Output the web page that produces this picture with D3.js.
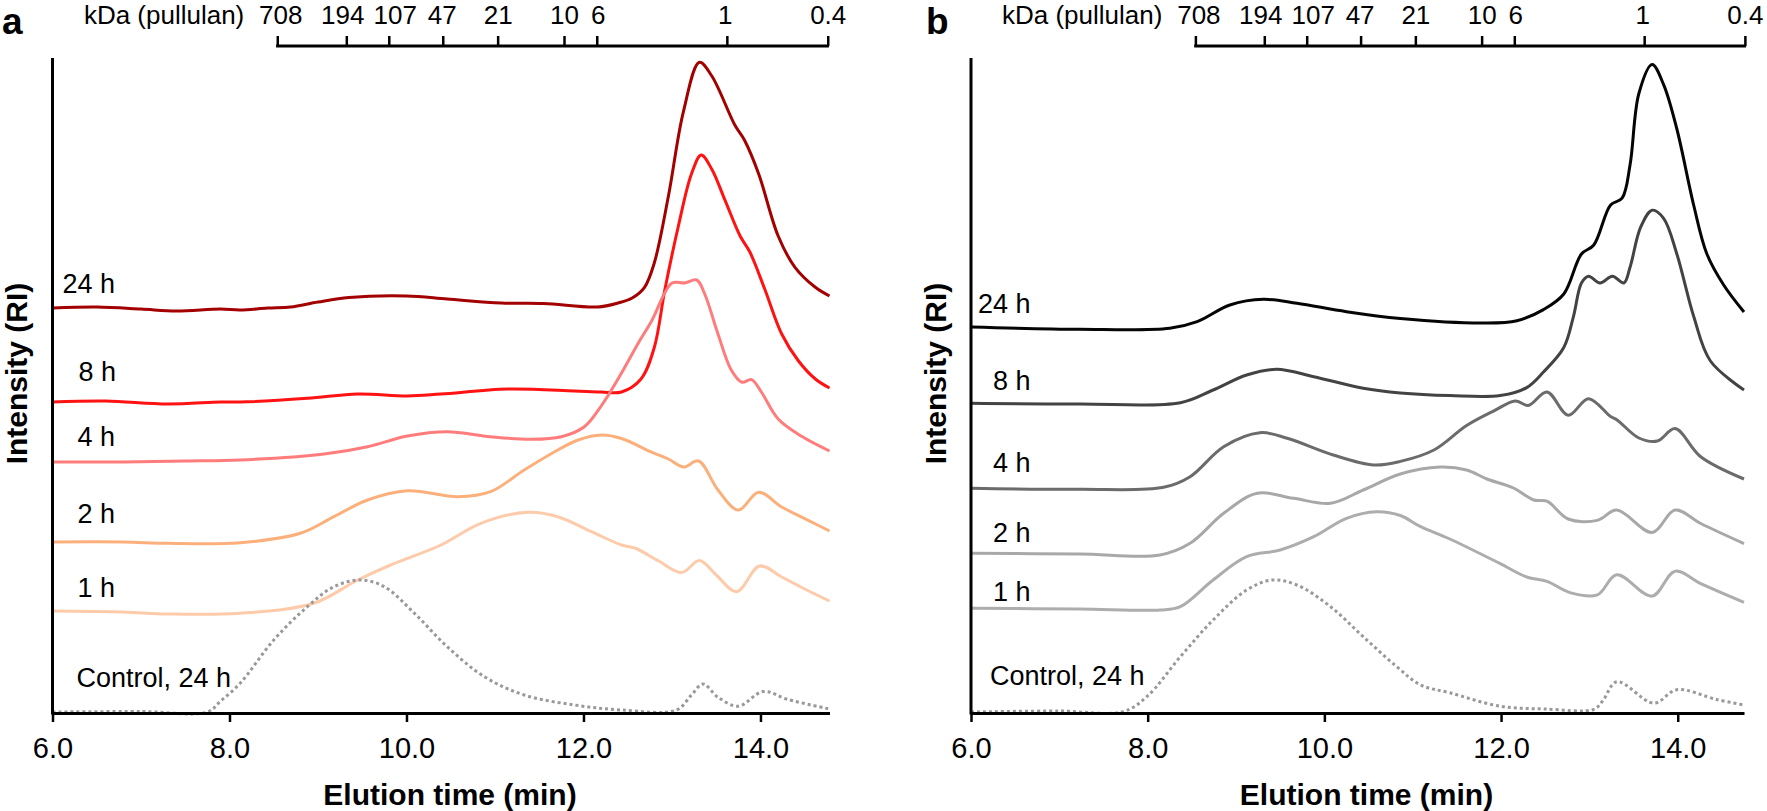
<!DOCTYPE html>
<html><head><meta charset="utf-8">
<script src="https://cdn.jsdelivr.net/npm/d3@7"></script>
<style>
body{margin:0;background:#fff;}
svg text{font-family:"Liberation Sans",Arial,Helvetica,sans-serif;fill:#000;}
</style></head><body>
<svg id="chart" width="1767" height="811"></svg>
<script>
// ---------------- data ----------------
const timeTicks = [6, 8, 10, 12, 14];
const kdaLabels = ["708", "194", "107", "47", "21", "10", "6", "1", "0.4"];
const kdaTimes  = [8.54, 9.32, 9.80, 10.41, 11.03, 11.78, 12.15, 13.62, 14.76];
const seriesNames = ["24 h", "8 h", "4 h", "2 h", "1 h", "Control, 24 h"];

// panel a : [elution time (min), RI intensity (a.u.)]
const a24 = [[6.0,405],[6.5,406],[7.0,404],[7.4,402],[7.9,404],[8.12,403],[8.43,405],[8.69,406],[9.0,411],[9.35,415.5],[10.0,417],[10.46,414],[11.07,410],[11.55,409.5],[12.16,406],[12.39,410],[12.55,415],[12.69,425.7],[12.80,450],[12.96,517],[13.13,601.7],[13.31,650.7],[13.45,637],[13.71,588],[13.82,572.7],[13.98,539],[14.20,477],[14.39,445.7],[14.62,425.7],[14.78,417]];
const a8 = [[6.0,311],[6.6,312],[7.3,309],[7.9,311],[8.12,311],[8.88,314.7],[9.45,319],[10.01,317],[10.39,319],[11.14,324],[11.9,322],[12.2,321],[12.43,321],[12.65,334],[12.80,365.5],[12.92,423.5],[13.07,486],[13.22,539],[13.33,558],[13.45,543.8],[13.60,512.6],[13.77,477],[13.88,461],[14.05,423.5],[14.24,379],[14.43,352],[14.62,334],[14.78,325]];
const a4 = [[6.0,251],[6.8,251],[7.5,252],[8.12,253],[9.07,259],[9.56,266.3],[10.01,277],[10.46,281.3],[10.95,276.3],[11.41,273.7],[11.75,276.3],[12.01,286.3],[12.20,307],[12.43,340],[12.62,370],[12.77,392],[13.0,430],[13.14,430],[13.28,433],[13.37,419],[13.52,379],[13.67,343],[13.79,330.8],[13.90,333.4],[14.01,321],[14.20,294],[14.47,276.4],[14.78,262]];
const a2 = [[6.0,171],[6.8,171],[7.3,169.7],[8.12,170.3],[8.80,179.7],[9.18,196.3],[9.56,213],[10.01,222.3],[10.58,216.3],[10.95,221.3],[11.33,243],[11.71,263],[11.94,273],[12.20,278],[12.43,274.5],[12.77,260.8],[12.96,254],[13.13,246],[13.30,252],[13.52,223],[13.75,203],[13.98,220.7],[14.24,206],[14.54,192.6],[14.78,182]];
const a1 = [[6.0,102],[6.8,101],[7.3,99],[8.12,99.7],[8.95,109.7],[9.45,133],[9.82,148],[10.39,168],[10.84,189.7],[11.37,200.7],[11.71,196.3],[12.09,181.3],[12.43,168],[12.58,165],[12.85,152],[13.11,140.5],[13.31,152.5],[13.50,138],[13.73,121.3],[13.99,147],[14.24,136],[14.50,124],[14.78,112]];
const aCtrl = [[6.0,1],[7.0,1.5],[7.75,1],[7.9,12],[8.12,29.7],[8.50,73],[8.88,106.3],[9.18,126.3],[9.48,133],[9.75,126.3],[10.09,99.7],[10.46,66.3],[10.88,36.3],[11.33,18],[11.9,8],[12.43,3],[13.05,3],[13.22,18],[13.35,29],[13.52,15.7],[13.75,6.8],[14.03,21.5],[14.31,13.5],[14.78,4]];

// panel b
const b24 = [[6.0,386],[7.23,383.7],[8.25,384.7],[8.56,391.3],[8.93,408],[9.31,413.7],[9.69,409.7],[10.25,401.3],[10.86,394.5],[11.80,390],[12.18,392.3],[12.48,403.4],[12.71,419],[12.91,459],[13.05,468],[13.24,508],[13.37,514.8],[13.46,548],[13.56,619.5],[13.71,648.5],[13.84,628.4],[13.99,584],[14.18,508],[14.33,459],[14.52,428],[14.75,401]];
const b8 = [[6.0,309.7],[7.23,309],[8.37,310.3],[8.74,323],[9.12,338],[9.46,343.7],[9.88,336.3],[10.44,324.7],[10.86,320],[11.42,317.4],[11.99,317.4],[12.29,325.4],[12.48,341],[12.71,365.5],[12.82,396.7],[12.91,430],[12.99,436.8],[13.12,430],[13.26,436.8],[13.39,430],[13.46,445.7],[13.58,485.8],[13.71,502.8],[13.84,494.7],[13.99,459],[14.18,396.7],[14.37,352],[14.75,323]];
const b4 = [[6.0,224.7],[7.23,223.7],[8.18,225.7],[8.48,236.3],[8.86,266.3],[9.27,280.3],[9.58,274.7],[10.10,258],[10.56,248],[10.86,251.6],[11.24,263],[11.61,287.5],[11.92,302.2],[12.16,312],[12.31,307.6],[12.52,321],[12.76,297.8],[12.99,314.3],[13.24,296.4],[13.31,293.3],[13.56,275],[13.77,272],[13.97,284.4],[14.26,256.3],[14.75,234]];
const b2 = [[6.0,159.7],[7.23,159],[8.14,158],[8.48,169.7],[8.86,199.7],[9.24,219.7],[9.65,214.7],[10.07,209.7],[10.44,223],[10.86,239],[11.31,246],[11.61,243],[11.84,234],[12.14,225],[12.37,213],[12.52,211.8],[12.76,194],[13.09,192.6],[13.31,202.9],[13.71,180.6],[13.97,202.9],[14.26,189.5],[14.75,169.4]];
const b1 = [[6.0,104.7],[7.23,104],[8.14,103],[8.37,106.3],[8.74,133],[9.12,156.3],[9.50,163],[9.88,176.3],[10.25,194.7],[10.59,201.3],[10.86,197.5],[11.09,186.3],[11.42,174],[11.99,149.4],[12.29,136],[12.52,131.6],[12.78,120.4],[13.09,118.2],[13.31,138.2],[13.71,116.9],[13.97,141.8],[14.26,129.3],[14.75,110.6]];
const bCtrl = [[6.0,1],[7.0,2],[7.72,1.3],[7.99,16.3],[8.37,56.3],[8.74,93],[9.12,123],[9.41,133],[9.69,128],[10.07,106.3],[10.44,76.3],[10.82,46.3],[11.09,28],[11.42,20.2],[11.99,6.8],[12.5,4],[13.05,3.7],[13.15,12],[13.31,31.3],[13.73,9.9],[13.99,23.3],[14.44,13.5],[14.75,8]];

// ---------------- layout / style ----------------
const kdaLabelDx = [3, -4, 6, -1, 0, 0, 1, -2, 0];
const panels = [
  { letter: "a", letterX: 2, x0: 52.5, x1: 829.5, tEnd: 14.78,
    series: [a24, a8, a4, a2, a1, aCtrl],
    colors: ["#a30000", "#ff1212", "#ff7c7c", "#fbb07c", "#fdcbaa", "#999999"],
    labelDx: [10, 26, 25, 25, 25, 24], labelGap: [15, 21, 16, 19, 14, 25] },
  { letter: "b", letterX: 926, x0: 971, x1: 1744, tEnd: 14.75,
    series: [b24, b8, b4, b2, b1, bCtrl],
    colors: ["#050505", "#434343", "#6b6b6b", "#a8a8a8", "#adadad", "#999999"],
    labelDx: [7, 22, 22, 22, 22, 19], labelGap: [14, 13, 16, 11, 7, 27] }
];
const yBase = 713, yTop = 58;
const FONT = '"Liberation Sans",Arial,Helvetica,sans-serif';

const svg = d3.select("#chart");

panels.forEach(p => {
  const x = d3.scaleLinear().domain([6, p.tEnd]).range([p.x0, p.x1]);
  const y = d3.scaleLinear().domain([0, 655]).range([yBase, yTop]);
  const g = svg.append("g");

  // curves
  const line = d3.line().x(d => x(d[0])).y(d => y(d[1])).curve(d3.curveCatmullRom.alpha(0.5));
  p.series.forEach((s, i) => {
    const isCtrl = i === 5;
    g.append("path").datum(s).attr("d", line)
      .attr("fill", "none").attr("stroke", p.colors[i])
      .attr("stroke-width", 3)
      .attr("stroke-dasharray", isCtrl ? "3,3" : null)
      .attr("stroke-linejoin", "round");
    g.append("text")
      .attr("x", p.x0 + p.labelDx[i])
      .attr("y", y(s[0][1]) - p.labelGap[i])
      .attr("font-size", 27)
      .text(seriesNames[i]);
  });

  // y axis line
  g.append("line").attr("x1", p.x0).attr("x2", p.x0).attr("y1", yTop).attr("y2", yBase + 1.5)
    .attr("stroke", "#000").attr("stroke-width", 3);

  // bottom axis
  const bx = g.append("g").attr("transform", `translate(0,${yBase})`)
    .call(d3.axisBottom(x).tickValues(timeTicks).tickFormat(d3.format(".1f")).tickSize(9).tickSizeOuter(0).tickPadding(15));
  bx.select(".domain").attr("stroke-width", 3);
  bx.selectAll(".tick line").attr("stroke-width", 2.5);
  bx.selectAll(".tick text").attr("font-size", 29).attr("font-family", FONT);

  // top kDa axis
  const kx = d3.scaleLinear().domain(x.domain()).range(x.range());
  const tx = g.append("g").attr("transform", "translate(0,46)")
    .call(d3.axisTop(kx).tickValues(kdaTimes).tickFormat((d, i) => kdaLabels[i]).tickSize(10).tickSizeOuter(0).tickPadding(12));
  tx.select(".domain").remove();
  tx.append("line").attr("x1", kx(kdaTimes[0]) - 1.2).attr("x2", kx(kdaTimes[kdaTimes.length - 1]) + 1.2)
    .attr("stroke", "#000").attr("stroke-width", 3);
  tx.selectAll(".tick line").attr("stroke-width", 2.5);
  tx.selectAll(".tick text").attr("font-size", 26).attr("font-family", FONT)
    .attr("dx", (d, i) => kdaLabelDx[i]);
  g.append("text").attr("x", kx(kdaTimes[0]) - 33).attr("y", 24)
    .attr("text-anchor", "end").attr("font-size", 26).text("kDa (pullulan)");

  // axis titles
  g.append("text").attr("x", (p.x0 + p.x1) / 2 + 9).attr("y", 805)
    .attr("text-anchor", "middle").attr("font-size", 30).attr("font-weight", "bold")
    .text("Elution time (min)");
  g.append("text").attr("transform", `translate(${p.x0 - 25.5},373.5) rotate(-90)`)
    .attr("text-anchor", "middle").attr("font-size", 30).attr("font-weight", "bold")
    .text("Intensity (RI)");

  // panel letter
  g.append("text").attr("x", p.letterX).attr("y", 34)
    .attr("font-size", 37).attr("font-weight", "bold").text(p.letter);
});
</script>
</body></html>
